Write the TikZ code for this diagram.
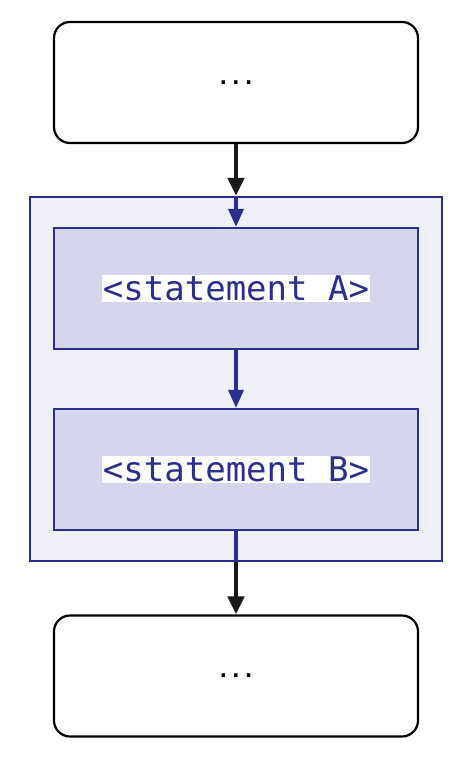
\documentclass[tikz,border=0pt]{standalone}
\usepackage{fontspec}
\newfontfamily\codefont{DejaVu Sans Mono}
\usetikzlibrary{arrows.meta}
\definecolor{dblue}{HTML}{2A2E8C}
\definecolor{outerfill}{HTML}{EFEFF8}
\definecolor{innerfill}{HTML}{D5D5EB}
\tikzset{
  plainbox/.style={draw=black, line width=2.2pt, rounded corners=16pt, fill=white,
    minimum width=364pt, minimum height=121pt, inner sep=0pt,
    font=\codefont\bfseries\fontsize{21}{24}\selectfont},
  stmtbox/.style={draw=dblue, line width=2.2pt, fill=innerfill,
    minimum width=364pt, minimum height=121pt, inner sep=0pt, text=dblue,
    font=\codefont\fontsize{34}{38}\selectfont},
  groupbox/.style={draw=dblue, line width=2.2pt, fill=outerfill,
    minimum width=412pt, minimum height=364pt, inner sep=0pt},
  blackarrow/.style={draw=black!90, line width=4.5pt, -{Triangle[length=18pt,width=16pt]}},
  bluearrow/.style={draw=dblue, line width=3.5pt, -{Triangle[length=18pt,width=15pt]}},
  blueline/.style={draw=dblue, line width=3.5pt},
}
\newcommand{\hilite}[1]{{\setlength{\fboxsep}{1pt}\colorbox{white}{#1}}}
\begin{document}
\begin{tikzpicture}[x=1pt,y=-1pt]
  \useasboundingbox (0,0) rectangle (474,760);
  \node[plainbox] (top) at (236,82.5) {...};
  \node[groupbox] (grp) at (236,379) {};
  \node[stmtbox] (sa) at (236,288.5) {\hilite{<statement A>}};
  \node[stmtbox] (sb) at (236,469.5) {\hilite{<statement B>}};
  \node[plainbox] (bot) at (236,676) {...};
  \draw[blackarrow] (top.south) -- (grp.north);
  \draw[bluearrow] (grp.north) -- (sa.north);
  \draw[bluearrow] (sa.south) -- (sb.north);
  \draw[blueline] (sb.south) -- (grp.south);
  \draw[blackarrow] (grp.south) -- (bot.north);
\end{tikzpicture}
\end{document}
